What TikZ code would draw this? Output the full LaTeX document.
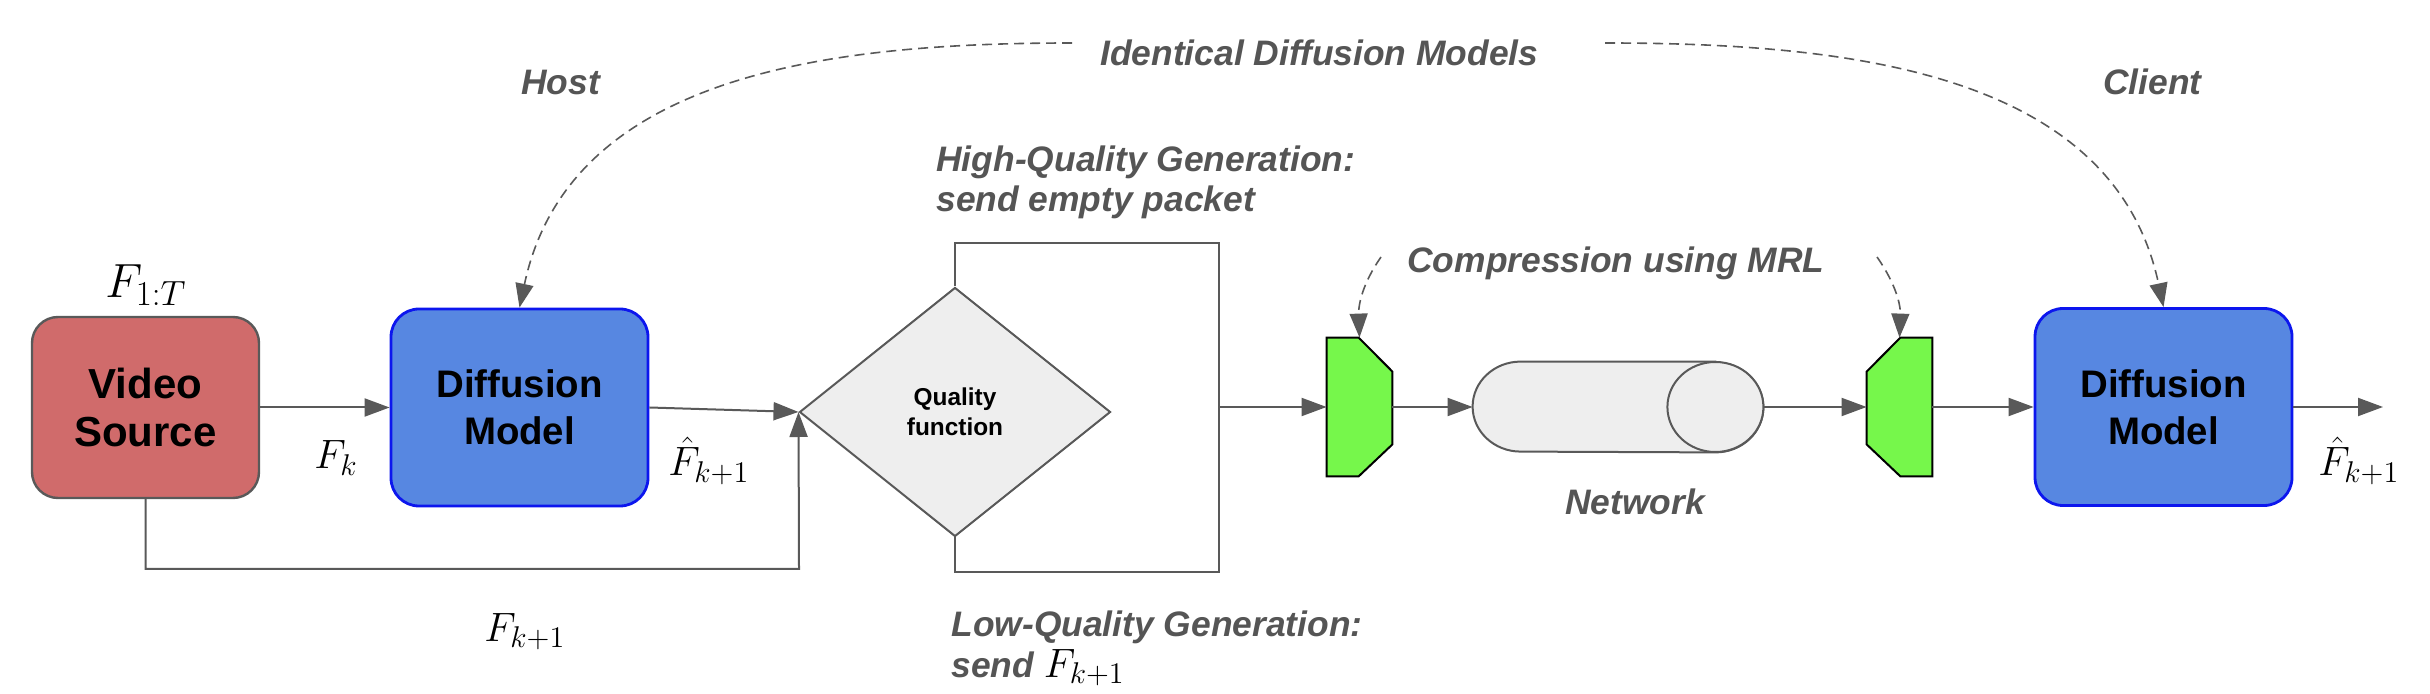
\documentclass[tikz,border=0pt]{standalone}
\usepackage{fix-cm}
\usepackage[no-math]{fontspec}
\setmainfont{Liberation Sans}
\usetikzlibrary{arrows.meta,shapes.geometric,calc}
\DeclareMathSizes{20.5}{20.5}{15}{11}
\DeclareMathSizes{24}{24}{17.5}{12.5}
\definecolor{lgray}{RGB}{89,89,89}
\definecolor{tgray}{RGB}{85,85,85}
\definecolor{vsred}{RGB}{208,107,107}
\definecolor{dmblue}{RGB}{87,135,225}
\definecolor{dmborder}{RGB}{12,22,238}
\definecolor{qgray}{RGB}{238,238,238}
\definecolor{encgreen}{RGB}{118,247,75}
\begin{document}
\begin{tikzpicture}[x=0.5pt,y=-0.5pt,
  vsbox/.style={rectangle, rounded corners=13pt, minimum width=113.5pt, minimum height=90.5pt,
    fill=vsred, draw=lgray, line width=1.2pt, align=center, inner sep=0pt,
    font=\fontsize{21}{24}\selectfont\bfseries},
  dmbox/.style={rectangle, rounded corners=14pt, minimum width=128.5pt, minimum height=98.5pt,
    fill=dmblue, draw=dmborder, line width=1.4pt, align=center, inner sep=0pt,
    font=\fontsize{19.2}{23.5}\selectfont\bfseries},
  qfd/.style={diamond, minimum width=155.5pt, minimum height=124.5pt, inner sep=0pt,
    fill=qgray, draw=lgray, line width=1pt, align=center,
    font=\fontsize{12.2}{15}\selectfont\bfseries},
  blk/.style={rectangle, inner sep=0pt, minimum width=32.5pt, minimum height=69pt},
  encshape/.style={fill=encgreen, draw=black, line width=1pt},
  cyl/.style={fill=qgray, draw=lgray, line width=1pt},
  wire/.style={draw=lgray, line width=1pt},
  arr/.style={draw=lgray, line width=1pt, -{Triangle[length=12.5pt,width=9pt]}},
  darr/.style={draw=lgray, line width=0.8pt, dash pattern=on 5pt off 3pt,
    -{Triangle[length=12pt,width=9pt]}},
  glbl/.style={font=\fontsize{17.7}{21}\selectfont\bfseries\itshape, text=tgray,
    inner sep=0pt, anchor=base west},
  mlbl/.style={font=\fontsize{20.5}{24}\selectfont, inner sep=0pt, anchor=base west},
  mlblbig/.style={font=\fontsize{24}{28}\selectfont, inner sep=0pt, anchor=base west}
]
\path[use as bounding box] (0,0) rectangle (2430,694);

% main nodes
\node[vsbox] (vs) at (145.5,407.5) {Video\\Source};
\node[dmbox] (dmh) at (519.5,407.5) {Diffusion\\Model};
\node[qfd] (qf) at (955,412) {Quality\\function};
\node[blk] (enc) at (1359.5,407) {};
\node[blk, minimum width=145pt, minimum height=45pt] (net) at (1618,407) {};
\node[blk] (dec) at (1899.5,407) {};
\node[dmbox] (dmc) at (2163.5,407) {Diffusion\\Model};

% encoder / decoder shapes
\draw[encshape] (enc.north west) -- ($(enc.north west)+(32,0)$) -- ($(enc.north east)+(0,34)$)
  -- ($(enc.south east)+(0,-32)$) -- ($(enc.south west)+(32,0)$) -- (enc.south west) -- cycle;
\draw[encshape] (dec.north east) -- ($(dec.north east)+(-32,0)$) -- ($(dec.north west)+(0,34)$)
  -- ($(dec.south west)+(0,-32)$) -- ($(dec.south east)+(-32,0)$) -- (dec.south east) -- cycle;

% network cylinder
\draw[cyl] ($(net.north east)+(-48,0)$) -- ($(net.north west)+(48,0)$)
  arc[start angle=90,end angle=270,x radius=24pt,y radius=22.5pt]
  -- ($(net.south east)+(-48,0)$)
  arc[start angle=-90,end angle=90,x radius=24pt,y radius=22.5pt] -- cycle;
\draw[cyl] ($(net.east)+(-48,0)$) ellipse[x radius=24pt,y radius=22.5pt];

% coordinates
\coordinate (bl) at (799,569);
\coordinate (hr) at (1219,243);
\coordinate (hb) at (1219,572);
\coordinate (outend) at (2383,407);
\coordinate (iL) at (1072,43);
\coordinate (iR) at (1605,43);
\coordinate (cL) at (1381,257);
\coordinate (cR) at (1877,257);

% connectors
\draw[arr] (vs.east) -- (dmh.west);
\draw[arr] (dmh.east) -- (qf.west);
\draw[arr] (vs.south) |- (bl) -- (qf.west);
\draw[wire] (qf.north) |- (hr) -- (hb) -| (qf.south);
\draw[arr] (enc.west -| hr) -- (enc.west);
\draw[arr] (enc.east) -- (net.west);
\draw[arr] (net.east) -- (dec.west);
\draw[arr] (dec.east) -- (dmc.west);
\draw[arr] (dmc.east) -- (outend);

% dashed arcs
\draw[darr] (iL) to[out=180,in=78] (dmh.north);
\draw[darr] (iR) to[out=0,in=102] (dmc.north);
\draw[darr] (cL) to[out=235,in=92] (enc.north);
\draw[darr] (cR) to[out=-55,in=88] (dec.north);

% gray labels
\node[glbl] (idm) at (1100,66) {Identical Diffusion Models};
\node[glbl] (host) at (521,95) {Host};
\node[glbl] (client) at (2103,95) {Client};
\node[glbl] (hq1) at (936,172) {High-Quality Generation:};
\node[glbl] (hq2) at (936,212) {send empty packet};
\node[glbl] (lq1) at (951,636) {Low-Quality Generation:};
\node[glbl] (lq2) at (951,677) {send \textcolor{black}{\fontsize{20.5}{24}\selectfont\upshape\mdseries$F_{k+1}$}};
\node[glbl] (cmp) at (1407,273) {Compression using MRL};
\node[glbl] (netl) at (1565,515) {Network};

% math labels
\node[mlblbig] (f1t) at (105,298) {$F_{1:T}$};
\node[mlbl] (fk) at (314,469) {$F_k$};
\node[mlbl] (fhh) at (668,476) {$\hat{F}_{k+1}$};
\node[mlbl] (fk1) at (484,641) {$F_{k+1}$};
\node[mlbl] (fhc) at (2318,476) {$\hat{F}_{k+1}$};
\end{tikzpicture}
\end{document}
